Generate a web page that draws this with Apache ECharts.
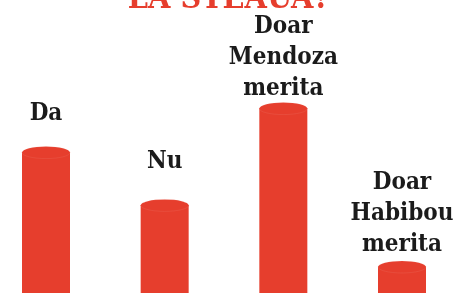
<!DOCTYPE html>
<html>
<head>
<meta charset="utf-8">
<script src="https://cdn.jsdelivr.net/npm/echarts@6/dist/echarts.min.js"></script>
<style>html,body{margin:0;padding:0;background:#fff;}#c{width:458px;height:305px;}</style>
</head>
<body>
<div id="c"></div>
<script>
var categories = ['Da', 'Nu', 'Doar Mendoza merita', 'Doar Habibou merita'];
var values = [32, 20, 42, 6];
var labelTexts = ['Da', 'Nu', 'Doar\nMendoza\nmerita', 'Doar\nHabibou\nmerita'];
var labelGaps = [17, 22, -2, 0];
var titleText = 'LA STEAUA?';

var RED = '#e63e2d';
var FONT = '"DejaVu Serif Condensed", "DejaVu Serif", serif';

var chart = echarts.init(document.getElementById('c'), null, {renderer: 'canvas'});
chart.setOption({
  animation: false,
  backgroundColor: '#ffffff',
  grid: {left: 46, right: 56, top: 73, bottom: 12},
  xAxis: {type: 'category', data: categories, boundaryGap: false, show: false},
  yAxis: {type: 'value', min: 0, max: 50, show: false},
  graphic: [{
    type: 'text', left: 'center', top: -16,
    style: {text: titleText, font: 'bold 32px ' + FONT, fill: RED}
  }],
  series: [
    {
      type: 'bar', data: values, barWidth: 48, z: 1,
      itemStyle: {color: RED}
    },
    {
      type: 'pictorialBar', z: 3, symbol: 'circle', symbolSize: [48, 12],
      symbolPosition: 'end', symbolOffset: [0, '-50%'],
      itemStyle: {color: RED, borderColor: '#f6c7bd', borderWidth: 1.5},
      data: values.map(function (v, i) {
        return {
          value: v,
          label: {
            show: true, position: 'top', distance: labelGaps[i],
            formatter: labelTexts[i],
            color: '#1b1b1b', fontFamily: FONT, fontWeight: 'bold',
            fontSize: 24, lineHeight: 31, align: 'center'
          }
        };
      })
    }
  ]
});
</script>
</body>
</html>
